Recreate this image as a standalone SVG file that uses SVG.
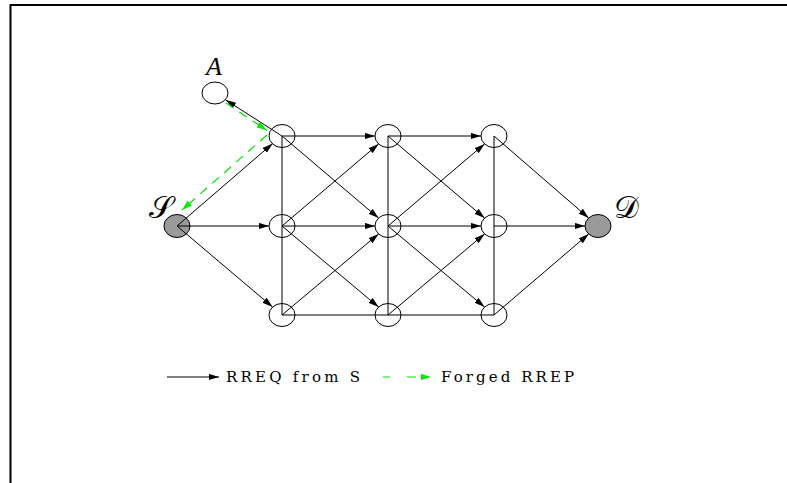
<svg xmlns="http://www.w3.org/2000/svg" width="787" height="483" viewBox="0 0 787 483">
  <style>
    .node { fill: none; stroke: #000000; stroke-width: 1; }
    .end { fill: #9a9a9a; stroke: #000000; stroke-width: 1; }
    .edge { fill: none; stroke: #000000; stroke-width: 1; }
    .arr { marker-end: url(#ah); }
    .forged { fill: none; stroke: #00e600; stroke-width: 1.2; stroke-dasharray: 9 7; marker-end: url(#ahg); }
    .lbl { font-family: "Liberation Serif", "DejaVu Serif", serif; font-style: italic; font-size: 26px; fill: #000000; }
    .cal { font-family: "DejaVu Serif", "DejaVu Sans", "Noto Sans", serif; font-size: 31px; fill: #000000; }
    .leg { font-family: "DejaVu Serif", "Liberation Serif", serif; font-size: 15px; fill: #000000; }
  </style>
  <defs>
    <marker id="ah" markerUnits="userSpaceOnUse" markerWidth="11" markerHeight="7" refX="10.5" refY="3.25" orient="auto">
      <path d="M0,0 L10.5,3.25 L0,6.5 z" fill="#000000"/>
    </marker>
    <marker id="ahg" markerUnits="userSpaceOnUse" markerWidth="11" markerHeight="7" refX="10.5" refY="3.25" orient="auto">
      <path d="M0,0 L10.5,3.25 L0,6.5 z" fill="#00e600"/>
    </marker>
  </defs>

  <rect width="787" height="483" fill="#ffffff"/>
  <path d="M10.5,483 L10.5,5 L787,5" fill="none" stroke="#000000" stroke-width="2"/>

  <g id="node-A">
    <ellipse class="node" cx="215" cy="93" rx="13" ry="11"/>
    <text class="lbl" x="214" y="75" text-anchor="middle">A</text>
  </g>
  <g id="node-S">
    <ellipse class="end" cx="177" cy="226" rx="13" ry="11.5"/>
    <text class="cal" x="161" y="218" text-anchor="middle">𝒮</text>
  </g>
  <g id="node-D">
    <ellipse class="end" cx="598" cy="226" rx="13" ry="11.5"/>
    <text class="cal" x="626" y="218" text-anchor="middle">𝒟</text>
  </g>
  <g id="node-1-1"><ellipse class="node" cx="282" cy="136" rx="13" ry="11.5"/></g>
  <g id="node-1-2"><ellipse class="node" cx="282" cy="226" rx="13" ry="11.5"/></g>
  <g id="node-1-3"><ellipse class="node" cx="282" cy="315" rx="13" ry="11.5"/></g>
  <g id="node-2-1"><ellipse class="node" cx="388" cy="136" rx="13" ry="11.5"/></g>
  <g id="node-2-2"><ellipse class="node" cx="388" cy="226" rx="13" ry="11.5"/></g>
  <g id="node-2-3"><ellipse class="node" cx="388" cy="315" rx="13" ry="11.5"/></g>
  <g id="node-3-1"><ellipse class="node" cx="494" cy="136" rx="13" ry="11.5"/></g>
  <g id="node-3-2"><ellipse class="node" cx="494" cy="226" rx="13" ry="11.5"/></g>
  <g id="node-3-3"><ellipse class="node" cx="494" cy="315" rx="13" ry="11.5"/></g>

  <g id="connectors">
    <!-- plain vertical lines -->
    <line class="edge" x1="282" y1="136" x2="282" y2="315"/>
    <line class="edge" x1="388" y1="136" x2="388" y2="315"/>
    <line class="edge" x1="494" y1="136" x2="494" y2="315"/>
    <!-- plain bottom row -->
    <line class="edge" x1="282" y1="315" x2="388" y2="315"/>
    <line class="edge" x1="388" y1="315" x2="494" y2="315"/>
    <!-- from S -->
    <line class="edge arr" x1="177" y1="226" x2="272.7" y2="143.5"/>
    <line class="edge arr" x1="177" y1="226" x2="269" y2="226"/>
    <line class="edge arr" x1="177" y1="226" x2="272.6" y2="307"/>
    <!-- to A -->
    <line class="edge arr" x1="282" y1="136" x2="225.5" y2="99.8"/>
    <!-- top row -->
    <line class="edge arr" x1="282" y1="136" x2="375" y2="136"/>
    <line class="edge arr" x1="388" y1="136" x2="481" y2="136"/>
    <!-- middle row -->
    <line class="edge arr" x1="282" y1="226" x2="375" y2="226"/>
    <line class="edge arr" x1="388" y1="226" x2="481" y2="226"/>
    <line class="edge arr" x1="494" y1="226" x2="585" y2="226"/>
    <!-- diagonals column 1 to 2 -->
    <line class="edge arr" x1="282" y1="136" x2="378.6" y2="218.1"/>
    <line class="edge arr" x1="282" y1="226" x2="378.6" y2="143.9"/>
    <line class="edge arr" x1="282" y1="226" x2="378.6" y2="307.1"/>
    <line class="edge arr" x1="282" y1="315" x2="378.6" y2="233.9"/>
    <!-- diagonals column 2 to 3 -->
    <line class="edge arr" x1="388" y1="136" x2="484.6" y2="218.1"/>
    <line class="edge arr" x1="388" y1="226" x2="484.6" y2="143.9"/>
    <line class="edge arr" x1="388" y1="226" x2="484.6" y2="307.1"/>
    <line class="edge arr" x1="388" y1="315" x2="484.6" y2="233.9"/>
    <!-- to D -->
    <line class="edge arr" x1="494" y1="136" x2="588.7" y2="218"/>
    <line class="edge arr" x1="494" y1="315" x2="588.7" y2="234"/>
    <!-- forged RREP -->
    <line class="forged" x1="226" y1="103" x2="267" y2="130.5"/>
    <line class="forged" x1="267" y1="135" x2="182" y2="210"/>
  </g>

  <g id="legend">
    <line class="edge arr" x1="167" y1="377" x2="219" y2="377"/>
    <text class="leg" x="226" y="382" textLength="134" lengthAdjust="spacing">RREQ from S</text>
    <line x1="383" y1="377" x2="431" y2="377" stroke="#00e600" stroke-width="1.2" stroke-dasharray="7 17 9 99" marker-end="url(#ahg)"/>
    <text class="leg" x="441" y="382" textLength="133" lengthAdjust="spacing">Forged RREP</text>
  </g>
</svg>
